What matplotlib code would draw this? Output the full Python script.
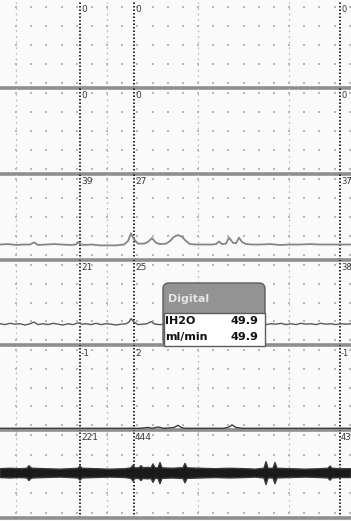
import matplotlib.pyplot as plt
import numpy as np
from matplotlib.patches import FancyBboxPatch, Rectangle

# strip layout (pixel rows of the screen, top -> bottom)
strip_top = [2, 88, 174, 260, 345, 430]
strip_bot = [88, 174, 260, 345, 430, 518]

marker_x = [80, 134, 340]
strip_labels = [["0", "0", "0"],
                ["0", "0", "0"],
                ["39", "27", "37"],
                ["21", "25", "38"],
                ["-1", "2", "-1"],
                ["221", "444", "435"]]

# channel 3 trace (percent of strip height)
s3_x = [0, 8, 16, 24, 30, 34, 38, 46, 54, 62, 70, 76, 78, 80, 84, 92, 100, 108, 116, 124,
        128, 131, 134, 138, 144, 148, 152, 156, 160, 166, 170, 174, 178, 182, 186, 190, 196, 204, 212, 216,
        219, 222, 226, 229, 233, 236, 239, 242, 246, 252, 260, 270, 280, 290, 300, 310, 320, 330, 340, 351]
s3_y = [18, 18.5, 17.5, 18, 18, 20.5, 17.5, 18, 18.5, 18, 17.5, 18, 21, 18.5, 17.5, 18, 17, 17, 17, 18,
        22, 31, 24, 19, 19, 21, 25.5, 20, 18.5, 19, 22, 27, 29, 27, 22, 18.5, 18, 18, 18, 18.5,
        21.5, 18.5, 19, 26, 20, 19.5, 26, 21, 18.5, 18, 18, 18.5, 17.5, 18, 18, 18.5, 18, 18, 18, 18]

# channel 4 trace
s4_x = [0, 5, 10, 15, 20, 25, 30, 34, 38, 43, 48, 53, 58, 63, 68, 73, 78, 82, 86, 91,
        96, 101, 106, 111, 116, 121, 126, 129, 131, 134, 138, 143, 147, 151, 155, 160, 170, 200, 230, 260,
        266, 271, 276, 281, 286, 291, 296, 301, 306, 311, 316, 321, 326, 331, 336, 341, 346, 351]
s4_y = [25, 24, 25.5, 24.5, 25, 23.5, 25, 27, 24, 25, 24, 25.5, 24.5, 23.5, 25, 24, 26, 24.5, 25, 24,
        25.5, 24, 25, 24.5, 23.5, 24.5, 25, 27, 31, 27, 24, 24.5, 25, 27.5, 24.5, 24, 25, 25, 25, 25,
        24, 25, 24.5, 25.5, 24, 25, 24, 25.5, 24.5, 25, 24, 25.5, 24.5, 25, 24, 25, 24.5, 25]

# channel 5 trace
s5_x = [0, 40, 80, 120, 140, 148, 152, 158, 164, 170, 174, 178, 182, 186, 200, 224, 229, 232, 236, 242,
        260, 300, 351]
s5_y = [2, 2, 2, 2, 2, 3, 2, 3.5, 2, 2.5, 3, 5.5, 2.5, 2, 2, 2, 3.5, 6, 3, 2, 2, 2, 2]

# channel 6 (EMG-like) envelope half-width around centre
s6_center = 51
s6_x = [0, 10, 20, 27, 29, 31, 33, 45, 60, 70, 78, 80, 82, 95, 110, 125, 131, 133, 135, 139,
        141, 143, 148, 151, 153, 155, 158, 160, 162, 172, 180, 183, 185, 187, 200, 215, 230, 245, 255, 264,
        266, 268, 273, 275, 277, 290, 305, 320, 328, 330, 332, 340, 351]
s6_amp = [5, 5.5, 5, 5.5, 8.5, 6, 5.5, 5, 4.5, 5, 5.5, 8, 5.5, 5, 4.5, 5, 6, 9, 6, 6,
          8.5, 6, 6.5, 6, 10.5, 6, 6, 12, 6, 5.5, 6, 6, 11, 6, 5.5, 5, 5.5, 5, 4.5, 5.5,
          13, 5.5, 5.5, 12, 5.5, 5, 4.5, 5, 5.5, 8, 5.5, 5, 5]

digital_rows = [("IH2O", "49.9"), ("ml/min", "49.9")]

W, H = 351, 521
fig = plt.figure(figsize=(W / 100, H / 100), dpi=100)
fig.patch.set_facecolor('#fafafa')

grid_cols = [16, 107, 198, 289]
dot_x = np.arange(16, W, 15.17)
rows = [6, 28, 50, 72, 94]

axes = []
for i in range(6):
    t, b = strip_top[i], strip_bot[i]
    ax = fig.add_axes([0, 1 - b / H, 1, (b - t) / H])
    ax.set_xlim(0, W)
    ax.set_ylim(0, 100)
    ax.axis('off')
    for gx in grid_cols:
        ax.axvline(gx, color='#bcbcbc', lw=0.9, ls=(0, (1.5, 3)), zorder=1)
    for r in rows:
        ax.scatter(dot_x, [r] * len(dot_x), s=1.3, marker='s', color='#b8b8b8', lw=0, zorder=1)
    for mx, lab in zip(marker_x, strip_labels[i]):
        ax.axvline(mx, color='#2a2a2a', lw=1.4, ls=(0, (0.8, 1.0)), zorder=2)
        ax.text(mx + 1, 100 - 8 / (b - t) * 100, lab, fontsize=6 if mx > 300 else 6.5,
                color='#3a3a3a', ha='left', va='center', zorder=3)
    ax.axhline(0, color='#8e8e8e', lw=2.6, zorder=2, clip_on=False)
    axes.append(ax)

axes[2].plot(s3_x, s3_y, color='#858585', lw=1.3, zorder=4)
axes[3].plot(s4_x, s4_y, color='#5a5a5a', lw=1.0, zorder=4)
axes[4].plot(s5_x, s5_y, color='#3c3c3c', lw=1.0, zorder=4, clip_on=False)
lo = [s6_center - a for a in s6_amp]
hi = [s6_center + a for a in s6_amp]
axes[5].fill_between(s6_x, lo, hi, color='#1a1a1a', lw=1.0, edgecolor='#3a3a3a', zorder=4)

# "Digital" readout box
ov = fig.add_axes([0, 0, 1, 1])
ov.set_xlim(0, W)
ov.set_ylim(H, 0)
ov.axis('off')
ov.patch.set_alpha(0)
ov.add_patch(FancyBboxPatch((163, 283), 102, 63, boxstyle='round,pad=0,rounding_size=6',
                            facecolor='#939393', edgecolor='#5c5c5c', lw=1.0, zorder=5))
ov.add_patch(Rectangle((163.5, 313), 101, 33, facecolor='white', edgecolor='#5c5c5c', lw=1.0, zorder=6))
ov.text(168, 299, "Digital", fontsize=8, fontweight='bold', color='#e4e4e4',
        ha='left', va='center', zorder=7)
for k, (name, val) in enumerate(digital_rows):
    y = 321 + k * 16
    ov.text(165, y, name, fontsize=8, fontweight='bold', color='#111111', ha='left', va='center', zorder=7)
    ov.text(258, y, val, fontsize=8, fontweight='bold', color='#111111', ha='right', va='center', zorder=7)

fig.savefig('out.png', dpi=100, facecolor=fig.get_facecolor())
